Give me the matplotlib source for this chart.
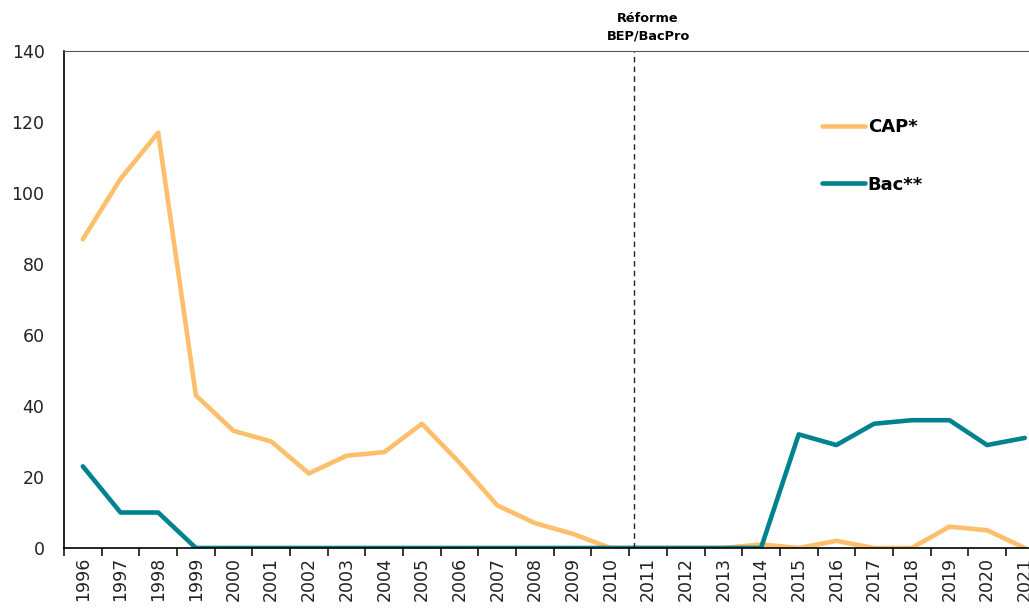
import matplotlib
matplotlib.use("Agg")
import matplotlib.pyplot as plt
from matplotlib.ticker import FixedLocator

years = list(range(1996, 2022))
cap = [87, 104, 117, 43, 33, 30, 21, 26, 27, 35, 24, 12, 7, 4, 0,
       0, 0, 0, 1, 0, 2, 0, 0, 6, 5, 0]
bac = [23, 10, 10, 0, 0, 0, 0, 0, 0, 0, 0, 0, 0, 0, 0,
       0, 0, 0, 0, 32, 29, 35, 36, 36, 29, 31]
reform_x = 2010.64

plt.rcParams['font.family'] = ['DejaVu Sans']

fig = plt.figure(figsize=(10.29, 6.08), dpi=100)
ax = fig.add_axes([0.0622, 0.0987, 0.952, 0.8174])

ax.plot(years, cap, color="#FDBF6B", lw=3.3, label="CAP*", solid_capstyle="round")
ax.plot(years, bac, color="#00828F", lw=3.3, label="Bac**", solid_capstyle="round")

ax.axvline(reform_x, color="#222222", lw=1, ls=(0, (4, 3)))
ax.text(2011.0, 1.017, "Réforme\nBEP/BacPro", transform=ax.get_xaxis_transform(),
        ha="center", va="bottom", fontsize=9.3, fontweight="bold", linespacing=1.5)

ax.set_xlim(1995.5, 2021.5)
ax.set_ylim(0, 140)
ax.set_yticks(range(0, 141, 20))
ax.set_xticks(years)
ax.set_xticklabels([str(y) for y in years], rotation=90)
ax.xaxis.set_minor_locator(FixedLocator([y - 0.5 for y in years] + [2021.5]))
ax.tick_params(axis="x", which="major", length=0, labelsize=12.5, pad=6.5,
               labelcolor="#222222")
ax.tick_params(axis="x", which="minor", length=6, width=1.1, direction="out")
ax.tick_params(axis="y", length=0, labelsize=12.5, pad=14, labelcolor="#222222")

ax.spines["left"].set_linewidth(1.2)
ax.spines["bottom"].set_linewidth(1.2)
ax.spines["top"].set_color("#555555")
ax.spines["top"].set_linewidth(0.8)
ax.spines["right"].set_visible(False)

ax.legend(loc="upper left", bbox_to_anchor=(0.757, 0.897), frameon=False,
          prop={"weight": "bold", "size": 13}, handlelength=2.4,
          handletextpad=0.15, labelspacing=2.17)

fig.savefig("out.png", dpi=100)
